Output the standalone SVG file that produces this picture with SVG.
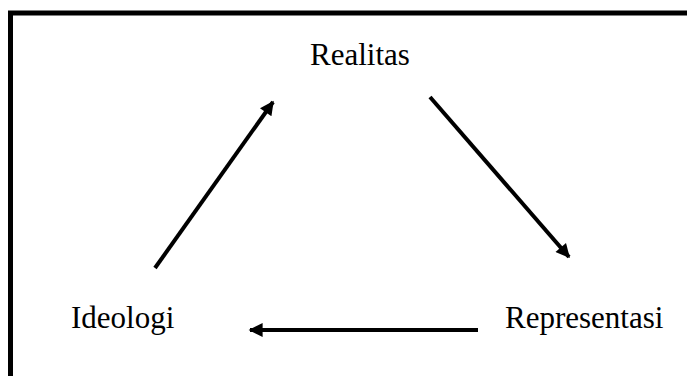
<svg xmlns="http://www.w3.org/2000/svg" width="687" height="376" viewBox="0 0 687 376">
<style>
.lbl{font-family:"Liberation Serif","Times New Roman",serif;font-size:31px;fill:#000}
.conn{stroke:#000;stroke-width:4;fill:none}
</style>
<defs>
<marker id="ah" viewBox="0 0 10 10" refX="9" refY="5" markerWidth="16" markerHeight="14" markerUnits="userSpaceOnUse" orient="auto">
<path d="M0,0 L10,5 L0,10 z" fill="#000"/>
</marker>
</defs>
<rect x="0" y="0" width="687" height="376" fill="#fff"/>
<rect x="10.5" y="13" width="700" height="400" fill="none" stroke="#000" stroke-width="5"/>
<g id="realitas"><text class="lbl" x="310" y="65">Realitas</text></g>
<g id="ideologi"><text class="lbl" x="71" y="328">Ideologi</text></g>
<g id="representasi"><text class="lbl" x="505" y="328">Representasi</text></g>
<g id="connectors">
<line class="conn" x1="155" y1="268" x2="273" y2="102" marker-end="url(#ah)"/>
<line class="conn" x1="430" y1="97" x2="569" y2="257" marker-end="url(#ah)"/>
<line class="conn" x1="478" y1="330" x2="250" y2="330" marker-end="url(#ah)"/>
</g>
</svg>
